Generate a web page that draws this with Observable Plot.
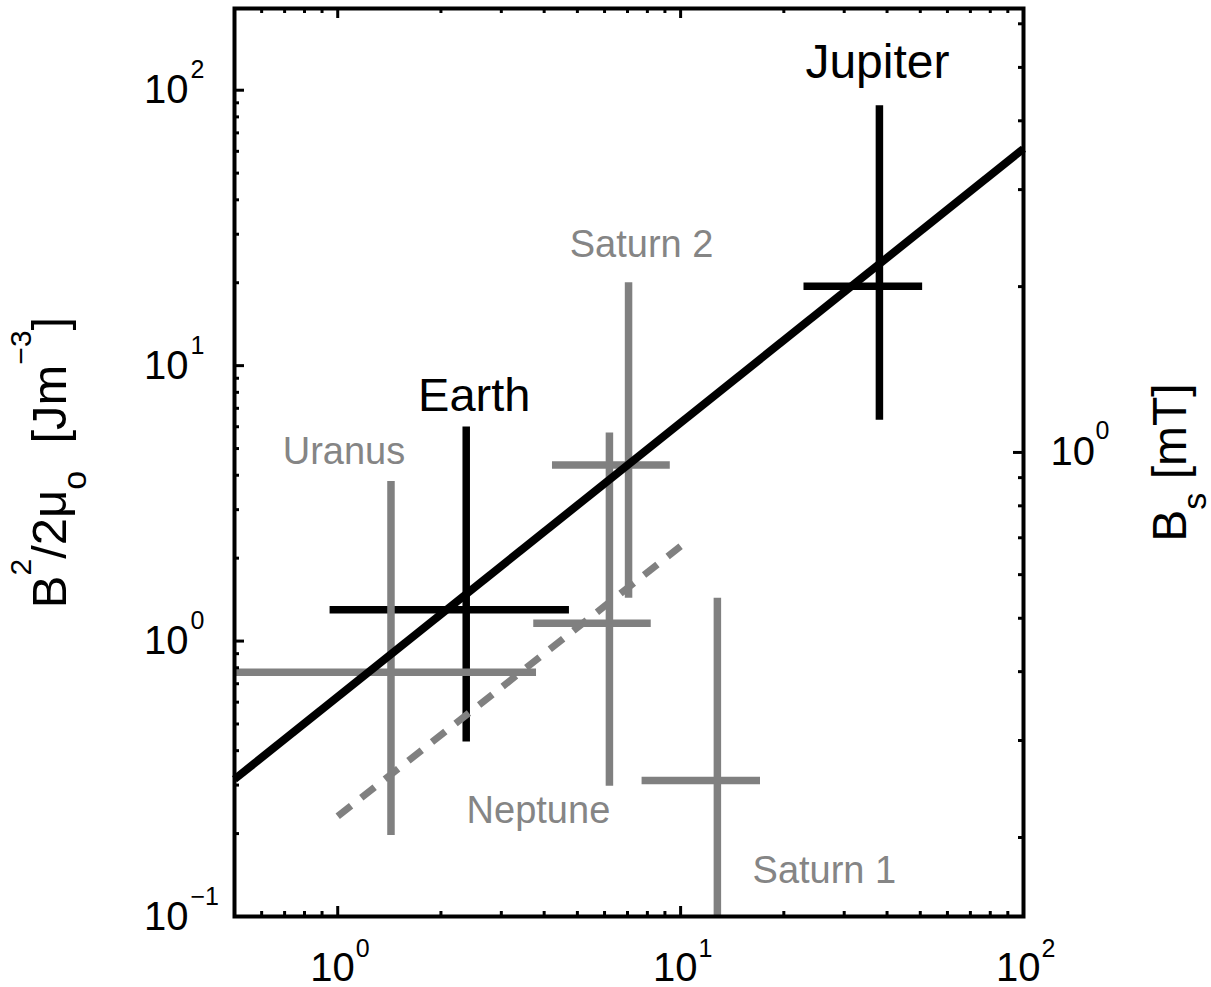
<!DOCTYPE html>
<html>
<head>
<meta charset="utf-8">
<script src="https://cdn.jsdelivr.net/npm/d3@7"></script>
<script src="https://cdn.jsdelivr.net/npm/@observablehq/plot@0.6"></script>
<style>
  html, body { margin: 0; padding: 0; background: #fff; overflow: hidden; }
  #chart svg { display: block; }
</style>
</head>
<body>
<div id="chart"></div>
<script>
// Planetary magnetic energy density B²/2μo (left) against the x quantity, with error crosses.
const planets    = ["Earth", "Jupiter", "Uranus", "Neptune", "Saturn 1", "Saturn 2"];
const xMid       = [2.37, 38.0, 1.43, 6.20, 12.8, 7.05];
const xLow       = [0.95, 22.9, 0.50, 3.73, 7.72, 4.23];
const xHigh      = [4.74, 50.8, 3.80, 8.21, 17.1, 9.33];
const energyMid  = [1.30, 19.4, 0.77, 1.16, 0.312, 4.36];
const energyLow  = [0.43, 6.33, 0.197, 0.297, 0.10, 1.43];
const energyHigh = [5.99, 87.8, 3.80, 5.70, 1.43, 20.0];

// Power-law fit (solid) and alternative fit (dashed)
const fitX = [0.5, 100];
const fitEnergy = [0.315, 61.3];
const altFitX = [1, 10];
const altFitEnergy = [0.231, 2.21];

// Axis ticks (labels are 10^exponent)
const xTickValues = [1, 10, 100];
const xTickExponents = ["0", "1", "2"];
const yTickValues = [0.1, 1, 10, 100];
const yTickExponents = ["\u22121", "0", "1", "2"];
const bsTickValues = [1];
const bsTickExponents = ["0"];
const bsMinorValues = [0.2, 0.3, 0.4, 0.5, 0.6, 0.7, 0.8, 0.9, 2, 3, 4, 5, 6];
// energy density at B_s = 1 mT; the right axis follows E = k·B_s²
const energyAtOneMilliTesla = 4.84;

const W = 1211, H = 987;
const margin = {left: 234, right: 188, top: 8, bottom: 71};
const frameW = W - margin.left - margin.right;
const frameH = H - margin.top - margin.bottom;

const black = "#000";
const gray = "#808080";
const grayText = "#858585";
const font = "Liberation Sans, Arial, Helvetica, sans-serif";
const barWidth = 7.5;

const rows = planets.map((name, i) => ({
  name, x: xMid[i], x1: xLow[i], x2: xHigh[i],
  y: energyMid[i], y1: energyLow[i], y2: energyHigh[i]
}));
const darkNames = new Set(["Earth", "Jupiter"]);
const darkRows = rows.filter(r => darkNames.has(r.name));
const grayRows = rows.filter(r => !darkNames.has(r.name));

const decadeMinors = (decades, from = 2) =>
  decades.flatMap(p => d3.range(from, 10).map(m => +(m * Math.pow(10, p)).toPrecision(3)));
const xMinorValues = [0.6, 0.7, 0.8, 0.9, ...decadeMinors([0, 1])];
const yMinorValues = decadeMinors([-1, 0, 1]);
const bsToEnergy = b => energyAtOneMilliTesla * b * b;

const tickW = 3;
const majorLen = 10, minorLen = 5;

function crosses(data, color) {
  return [
    Plot.ruleX(data, {x: "x", y1: "y1", y2: "y2", stroke: color, strokeWidth: barWidth}),
    Plot.ruleY(data, {y: "y", x1: "x1", x2: "x2", stroke: color, strokeWidth: barWidth})
  ];
}
function xTickMarks(values, len) {
  return [
    Plot.tickX(values, {x: d => d, insetTop: frameH - len, strokeWidth: tickW, stroke: black}),
    Plot.tickX(values, {x: d => d, insetBottom: frameH - len, strokeWidth: tickW, stroke: black})
  ];
}
function leftTickMarks(values, len) {
  return Plot.tickY(values, {y: d => d, insetRight: frameW - len, strokeWidth: tickW, stroke: black});
}
function rightTickMarks(values, len) {
  return Plot.tickY(values, {y: bsToEnergy, insetLeft: frameW - len, strokeWidth: tickW, stroke: black});
}

const labelPlacement = {
  "Earth":    {at: "y2", dx: 8,   dy: -16, fill: black,    size: 47},
  "Jupiter":  {at: "y2", dx: -2,  dy: -28, fill: black,    size: 48},
  "Uranus":   {at: "y2", dx: -47, dy: -17, fill: grayText, size: 38},
  "Saturn 2": {at: "y2", dx: 13,  dy: -26, fill: grayText, size: 38},
  "Neptune":  {at: "y1", dx: -71, dy: 37,  fill: grayText, size: 38},
  "Saturn 1": {at: "y",  dx: 107, dy: 103, fill: grayText, size: 38}
};
const planetLabels = rows.map(r => {
  const p = labelPlacement[r.name];
  return Plot.text([r], {
    x: "x", y: p.at, text: "name", dx: p.dx, dy: p.dy,
    fill: p.fill, fontSize: p.size, textAnchor: "middle", lineAnchor: "bottom"
  });
});

const leftTitle = "B2/2\u03bco [Jm-3]";
const rightTitle = "Bs [mT]";

const chart = Plot.plot({
  width: W, height: H,
  marginLeft: margin.left, marginRight: margin.right,
  marginTop: margin.top, marginBottom: margin.bottom,
  style: {fontFamily: font, background: "#fff", color: black},
  x: {type: "log", domain: [0.5, 100], axis: null},
  y: {type: "log", domain: [0.1, 198], axis: null},
  marks: [
    ...crosses(darkRows, black),
    ...crosses(grayRows, gray),
    Plot.line(fitX.map((x, i) => ({x, y: fitEnergy[i]})),
      {x: "x", y: "y", stroke: black, strokeWidth: 8, strokeLinecap: "butt"}),
    Plot.line(altFitX.map((x, i) => ({x, y: altFitEnergy[i]})),
      {x: "x", y: "y", stroke: gray, strokeWidth: 7, strokeLinecap: "butt", strokeDasharray: "17,13"}),
    ...planetLabels,

    // tick marks, drawn inside the box
    ...xTickMarks(xTickValues, majorLen),
    ...xTickMarks(xMinorValues, minorLen),
    leftTickMarks(yTickValues, majorLen),
    leftTickMarks(yMinorValues, minorLen),
    rightTickMarks(bsTickValues, majorLen),
    rightTickMarks(bsMinorValues, minorLen),
    Plot.frame({stroke: black, strokeWidth: 4}),

    // bottom tick labels
    Plot.text(xTickValues, {x: d => d, text: () => "10", frameAnchor: "bottom",
      textAnchor: "end", lineAnchor: "bottom", dx: 17, dy: 64, fontSize: 40, fill: black}),
    Plot.text(xTickValues, {x: d => d, text: (d, i) => xTickExponents[i], frameAnchor: "bottom",
      textAnchor: "start", lineAnchor: "bottom", dx: 18, dy: 40, fontSize: 25, fill: black}),
    // left tick labels
    Plot.text(yTickValues, {y: d => d, text: () => "10", frameAnchor: "left",
      textAnchor: "end", lineAnchor: "bottom", dx: -46, dy: 13, fontSize: 40, fill: black}),
    Plot.text(yTickValues, {y: d => d, text: (d, i) => yTickExponents[i], frameAnchor: "left",
      textAnchor: "start", lineAnchor: "bottom", dx: -44, dy: -12, fontSize: 25, fill: black}),
    // right tick labels (B_s in mT)
    Plot.text(bsTickValues, {y: bsToEnergy, text: () => "10", frameAnchor: "right",
      textAnchor: "start", lineAnchor: "bottom", dx: 27, dy: 13, fontSize: 40, fill: black}),
    Plot.text(bsTickValues, {y: bsToEnergy, text: (d, i) => bsTickExponents[i], frameAnchor: "right",
      textAnchor: "start", lineAnchor: "bottom", dx: 72, dy: -13, fontSize: 25, fill: black}),

    // axis titles
    Plot.text([leftTitle], {text: d => d, frameAnchor: "left", rotate: -90, dx: -169,
      textAnchor: "middle", lineAnchor: "bottom", fontSize: 49, fill: black}),
    Plot.text([rightTitle], {text: d => d, frameAnchor: "right", rotate: -90, dx: 162,
      textAnchor: "middle", lineAnchor: "bottom", fontSize: 48, fill: black})
  ]
});

// Typeset super- and subscripts in the axis titles
function typeset(svg, plain, parts) {
  const el = Array.from(svg.querySelectorAll("text")).find(t => t.textContent === plain);
  if (!el) return;
  el.textContent = "";
  el.style.whiteSpace = "pre";
  let shift = 0;
  for (const p of parts) {
    const ts = document.createElementNS("http://www.w3.org/2000/svg", "tspan");
    const target = p.shift || 0;
    ts.setAttribute("dy", target - shift);
    shift = target;
    if (p.size) ts.setAttribute("font-size", p.size);
    ts.textContent = p.t;
    el.appendChild(ts);
  }
}
typeset(chart, leftTitle, [
  {t: "B"}, {t: "2", size: 30, shift: -35}, {t: "/2\u03bc"}, {t: "o", size: 34, shift: 20},
  {t: "  [Jm"}, {t: "\u22123", size: 30, shift: -35}, {t: "]"}
]);
typeset(chart, rightTitle, [
  {t: "B"}, {t: "s", size: 34, shift: 20}, {t: " [mT]"}
]);

document.getElementById("chart").appendChild(chart);
</script>
</body>
</html>
